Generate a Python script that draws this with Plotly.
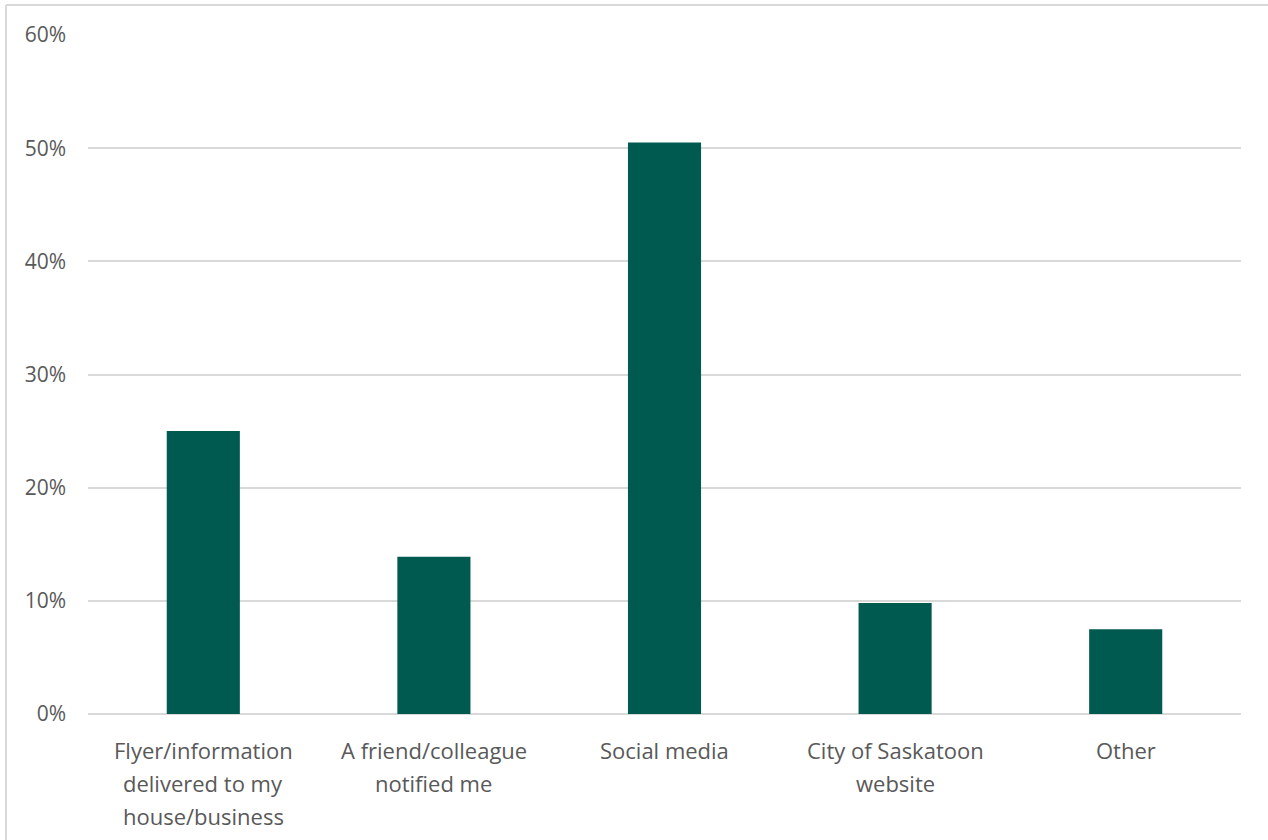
import plotly.graph_objects as go

categories = [
    "Flyer/information<br>delivered to my<br>house/business",
    "A friend/colleague<br>notified me",
    "Social media",
    "City of Saskatoon<br>website",
    "Other",
]
keys = ["Flyer", "Friend", "Social", "City", "Other"]
values = [0.25, 0.139, 0.505, 0.098, 0.075]
y_ticks = [0, 0.1, 0.2, 0.3, 0.4, 0.5, 0.6]

BAR = "#005A4F"
TEXT = "#595959"
GRID = "#D9D9D9"
FONT = "Open Sans"

fig = go.Figure(
    go.Bar(
        x=keys,
        y=values,
        marker=dict(color=BAR, line=dict(width=0)),
        hoverinfo="skip",
    )
)

# category labels, one annotation per text line
annotations = []
for key, label in zip(keys, categories):
    for i, line in enumerate(label.split("<br>")):
        annotations.append(dict(
            x=key, xref="x", y=0, yref="paper",
            text=line, showarrow=False,
            yanchor="top", xanchor="center",
            yshift=-19 - 33 * i,
            font=dict(family=FONT, size=22, color=TEXT),
        ))

fig.update_layout(
    width=1268,
    height=840,
    margin=dict(l=88, r=27, t=35, b=126),
    paper_bgcolor="white",
    plot_bgcolor="white",
    bargap=0.683,
    showlegend=False,
    annotations=annotations,
    xaxis=dict(
        showticklabels=False,
        showgrid=False,
        showline=False,
        zeroline=False,
    ),
    yaxis=dict(
        range=[0, 0.6],
        tickvals=y_ticks,
        tickformat=".0%",
        showgrid=True,
        gridcolor=GRID,
        gridwidth=2,
        zeroline=True,
        zerolinecolor=GRID,
        zerolinewidth=2,
        showline=False,
        ticklabelstandoff=21,
        tickfont=dict(family=FONT, size=21, color=TEXT),
    ),
    shapes=[
        # chart frame (top and left edges)
        dict(type="line", xref="paper", yref="paper",
             x0=-0.0711, x1=1.05, y0=1.0442, y1=1.0442,
             line=dict(color=GRID, width=2)),
        dict(type="line", xref="paper", yref="paper",
             x0=-0.0711, x1=-0.0711, y0=1.0442, y1=-0.3,
             line=dict(color=GRID, width=2)),
    ],
)

fig.write_html("out.html")
